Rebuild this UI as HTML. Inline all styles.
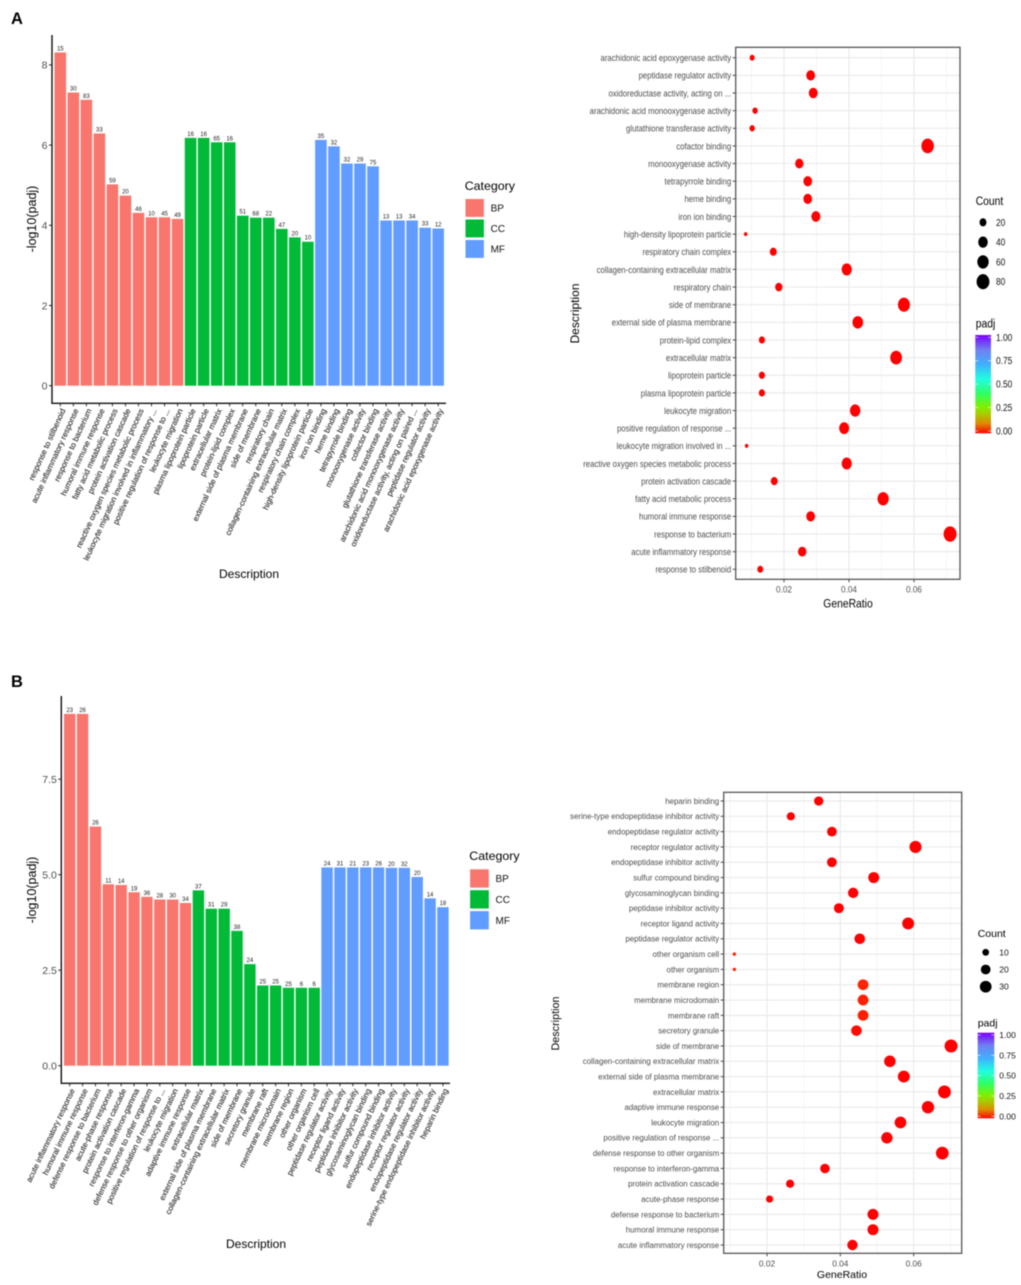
<!DOCTYPE html>
<html lang="en">
<head>
<meta charset="utf-8">
<title>GO enrichment charts</title>
<style>
html,body{margin:0;padding:0;background:#fff;}
#figure{display:block;width:1021px;height:1285px;filter:blur(0.5px);font-family:"Liberation Sans",sans-serif;}
</style>
</head>
<body>
<svg id="figure" xmlns="http://www.w3.org/2000/svg" width="1021" height="1285" viewBox="0 0 1021 1285">
  <defs>
    <linearGradient id="padjGradient" x1="0" y1="1" x2="0" y2="0">
      <stop offset="0" stop-color="#ff0000"/>
      <stop offset="0.1" stop-color="#de8a00"/>
      <stop offset="0.2" stop-color="#a8cc00"/>
      <stop offset="0.27" stop-color="#80f000"/>
      <stop offset="0.4" stop-color="#30ff60"/>
      <stop offset="0.55" stop-color="#20ffe0"/>
      <stop offset="0.7" stop-color="#40b0ff"/>
      <stop offset="0.85" stop-color="#7080f0"/>
      <stop offset="1" stop-color="#7a00ff"/>
    </linearGradient>
  </defs>
  <rect x="0" y="0" width="1021" height="1285" fill="#ffffff"/>
  <text x="11" y="24" font-size="16.5" font-weight="bold" fill="#000">A</text>
  <text x="11" y="687" font-size="16.5" font-weight="bold" fill="#000">B</text>
</svg>
<script>
// ---------- Panel A data ----------
const aBarCategories = ["response to stilbenoid","acute inflammatory response","response to bacterium","humoral immune response","fatty acid metabolic process","protein activation cascade","reactive oxygen species metabolic process","leukocyte migration involved in inflammatory ...","positive regulation of response to ...","leukocyte migration","plasma lipoprotein particle","lipoprotein particle","extracellular matrix","protein-lipid complex","external side of plasma membrane","side of membrane","respiratory chain","collagen-containing extracellular matrix","respiratory chain complex","high-density lipoprotein particle","iron ion binding","heme binding","tetrapyrrole binding","monooxygenase activity","cofactor binding","glutathione transferase activity","arachidonic acid monooxygenase activity","oxidoreductase activity, acting on paired ...","peptidase regulator activity","arachidonic acid epoxygenase activity"];
const aDotCategories = ["response to stilbenoid","acute inflammatory response","response to bacterium","humoral immune response","fatty acid metabolic process","protein activation cascade","reactive oxygen species metabolic process","leukocyte migration involved in ...","positive regulation of response ...","leukocyte migration","plasma lipoprotein particle","lipoprotein particle","extracellular matrix","protein-lipid complex","external side of plasma membrane","side of membrane","respiratory chain","collagen-containing extracellular matrix","respiratory chain complex","high-density lipoprotein particle","iron ion binding","heme binding","tetrapyrrole binding","monooxygenase activity","cofactor binding","glutathione transferase activity","arachidonic acid monooxygenase activity","oxidoreductase activity, acting on ...","peptidase regulator activity","arachidonic acid epoxygenase activity"];
const aGroups = ["BP","BP","BP","BP","BP","BP","BP","BP","BP","BP","CC","CC","CC","CC","CC","CC","CC","CC","CC","CC","MF","MF","MF","MF","MF","MF","MF","MF","MF","MF"];
const aLogPadj = [8.31,7.31,7.13,6.29,5.02,4.74,4.31,4.20,4.20,4.16,6.18,6.18,6.07,6.07,4.24,4.19,4.19,3.91,3.70,3.59,6.13,5.97,5.54,5.54,5.47,4.12,4.12,4.12,3.94,3.92];
const aCounts = [15,30,83,33,59,20,46,10,45,49,16,16,65,16,51,68,22,47,20,10,35,32,32,29,75,13,13,34,33,12];
const aGeneRatios = [0.0127,0.0256,0.0711,0.0282,0.0505,0.0170,0.0393,0.0085,0.0385,0.0419,0.0132,0.0132,0.0545,0.0132,0.0427,0.0569,0.0184,0.0393,0.0167,0.0082,0.0298,0.0273,0.0273,0.0247,0.0642,0.0102,0.0111,0.0290,0.0282,0.0102];
const aYTicks = [0,2,4,6,8];
const aYTickLabels = ["0","2","4","6","8"];
const aCountBreaks = [20,40,60,80];

// ---------- Panel B data ----------
const bBarCategories = ["acute inflammatory response","humoral immune response","defense response to bacterium","acute-phase response","protein activation cascade","response to interferon-gamma","defense response to other organism","positive regulation of response to ...","leukocyte migration","adaptive immune response","extracellular matrix","external side of plasma membrane","collagen-containing extracellular matrix","side of membrane","secretory granule","membrane raft","membrane microdomain","membrane region","other organism","other organism cell","peptidase regulator activity","receptor ligand activity","peptidase inhibitor activity","glycosaminoglycan binding","sulfur compound binding","endopeptidase inhibitor activity","receptor regulator activity","endopeptidase regulator activity","serine-type endopeptidase inhibitor activity","heparin binding"];
const bDotCategories = ["acute inflammatory response","humoral immune response","defense response to bacterium","acute-phase response","protein activation cascade","response to interferon-gamma","defense response to other organism","positive regulation of response ...","leukocyte migration","adaptive immune response","extracellular matrix","external side of plasma membrane","collagen-containing extracellular matrix","side of membrane","secretory granule","membrane raft","membrane microdomain","membrane region","other organism","other organism cell","peptidase regulator activity","receptor ligand activity","peptidase inhibitor activity","glycosaminoglycan binding","sulfur compound binding","endopeptidase inhibitor activity","receptor regulator activity","endopeptidase regulator activity","serine-type endopeptidase inhibitor activity","heparin binding"];
const bGroups = ["BP","BP","BP","BP","BP","BP","BP","BP","BP","BP","CC","CC","CC","CC","CC","CC","CC","CC","CC","CC","MF","MF","MF","MF","MF","MF","MF","MF","MF","MF"];
const bLogPadj = [9.21,9.21,6.26,4.75,4.73,4.54,4.42,4.35,4.35,4.26,4.59,4.11,4.11,3.53,2.66,2.10,2.10,2.04,2.04,2.04,5.19,5.19,5.19,5.19,5.19,5.18,5.18,4.94,4.38,4.15];
const bCounts = [23,26,26,11,14,19,36,28,30,34,37,31,29,38,24,25,25,25,6,6,24,31,21,23,26,20,32,20,14,18];
const bGeneRatios = [0.0433,0.0489,0.0489,0.0207,0.0263,0.0358,0.0678,0.0527,0.0564,0.0639,0.0684,0.0573,0.0535,0.0702,0.0444,0.0462,0.0462,0.0462,0.0111,0.0111,0.0453,0.0585,0.0396,0.0435,0.0491,0.0377,0.0605,0.0377,0.0265,0.0341];
const bYTicks = [0,2.5,5,7.5];
const bYTickLabels = ["0.0","2.5","5.0","7.5"];
const bCountBreaks = [10,20,30];

// ---------- Shared scale labels ----------
const legendGroups = ["BP","CC","MF"];
const ratioTicks = [0.02,0.04,0.06];
const ratioMinorTicks = [0.01,0.03,0.05,0.07];
const padjBreaks = [0,0.25,0.5,0.75,1];

const groupColors = {BP:"#F8766D",CC:"#00BA38",MF:"#619CFF"};
const svg = document.getElementById("figure");

function mk(tag, attrs, parent) {
  const node = document.createElementNS("http://www.w3.org/2000/svg", tag);
  for (const k in attrs) node.setAttribute(k, attrs[k]);
  parent.appendChild(node);
  return node;
}
function padjColor(p) {
  const hue = p < 0.01 ? p * 950 : 9.5 + (p - 0.01) * 265;
  return "hsl(" + hue.toFixed(1) + ",100%,50%)";
}
function radiusScale(counts, rMin, rMax) {
  const lo = Math.min.apply(null, counts), hi = Math.max.apply(null, counts);
  return function (c) { return rMin + (rMax - rMin) * Math.sqrt((c - lo) / (hi - lo)); };
}

function drawBarPanel(id, cfg, categories, groups, values, counts, yTicks, yTickLabels) {
  const yScale = function (v) { return cfg.y0 - v * cfg.yUnit; };
  const xScale = function (i) { return cfg.x0 + i * cfg.xStep; };
  const g = mk("g", {}, svg);
  
  

  values.forEach(function (v, i) {
    const bar = mk("rect", {x: xScale(i) - cfg.barW / 2, y: yScale(v), width: cfg.barW, height: cfg.y0 - yScale(v), fill: groupColors[groups[i]]}, g);
    
    
    const lab = mk("text", {x: xScale(i), y: yScale(v) - 2, "text-anchor": "middle", "font-size": 6, fill: "#222"}, g);
    lab.textContent = counts[i];
    
    
    const tick = mk("line", {x1: xScale(i), x2: xScale(i), y1: cfg.axisY, y2: cfg.axisY + 3, stroke: "#333", "stroke-width": 1}, g);
    
    
    const ax = xScale(i) + 3.5, ay = cfg.axisY + 6;
    const cat = mk("text", {x: ax, y: ay, "text-anchor": "end", "font-size": cfg.catFont, fill: "#333", stroke: "#333", "stroke-width": 0.15, "dominant-baseline": "middle", transform: "rotate(" + cfg.angle + " " + ax + " " + ay + ")"}, g);
    cat.textContent = categories[i];
    
    
  });

  const yAxis = mk("line", {x1: cfg.axisX, x2: cfg.axisX, y1: cfg.axisTop, y2: cfg.axisY + 0.7, stroke: "#111", "stroke-width": 1.4}, g);
  
  
  const xAxis = mk("line", {x1: cfg.axisX, x2: cfg.axisEnd, y1: cfg.axisY, y2: cfg.axisY, stroke: "#111", "stroke-width": 1.4}, g);
  
  

  yTicks.forEach(function (v, i) {
    const t = mk("line", {x1: cfg.axisX - 3, x2: cfg.axisX, y1: yScale(v), y2: yScale(v), stroke: "#222", "stroke-width": 1}, g);
    
    
    const l = mk("text", {x: cfg.axisX - 4.5, y: yScale(v) + 3.8, "text-anchor": "end", "font-size": 10.5, fill: "#4d4d4d"}, g);
    l.textContent = yTickLabels[i];
    
    
  });

  const yTitle = mk("text", {x: cfg.yTitleX, y: cfg.yTitleY, "text-anchor": "middle", "font-size": 12.5, fill: "#000", transform: "rotate(-90 " + cfg.yTitleX + " " + cfg.yTitleY + ")"}, g);
  yTitle.textContent = "-log10(padj)";
  
  
  const xTitle = mk("text", {x: cfg.xTitleX, y: cfg.xTitleY, "text-anchor": "middle", "font-size": 12, fill: "#000"}, g);
  xTitle.textContent = "Description";
  
  

  const leg = mk("g", {}, g);
  
  
  const legTitle = mk("text", {x: cfg.legX, y: cfg.legTitleY, "font-size": 12.4, fill: "#000"}, leg);
  legTitle.textContent = "Category";
  
  
  legendGroups.forEach(function (name, i) {
    const top = cfg.legTop + i * cfg.legStep;
    const sw = mk("rect", {x: cfg.legX + 0.8, y: top, width: cfg.legW, height: cfg.legStep - 2.6, fill: groupColors[name]}, leg);
    
    
    const tx = mk("text", {x: cfg.legX + cfg.legW + 7.5, y: top + cfg.legStep / 2 + 2.3, "font-size": 10, fill: "#111"}, leg);
    tx.textContent = name;
    
    
  });
}

function drawDotPanel(id, cfg, categories, ratios, counts, logPadj, countBreaks) {
  const xScale = function (v) { return cfg.x02 + (v - 0.02) * cfg.xUnit; };
  const yScale = function (i) { return cfg.rowBottom - i * cfg.rowStep; };
  const rScale = radiusScale(counts, cfg.rMin, cfg.rMax);
  // squeezed text: fk enlarges the font, sx narrows it horizontally
  const squeeze = function (x, y) { return "translate(" + x + " " + y + ") scale(" + cfg.sx + " 1)"; };
  const g = mk("g", {}, svg);
  
  

  const panelBg = mk("rect", {x: cfg.left, y: cfg.top, width: cfg.right - cfg.left, height: cfg.bottom - cfg.top, fill: "#fff"}, g);
  
  

  ratioMinorTicks.forEach(function (v) {
    if (xScale(v) < cfg.left || xScale(v) > cfg.right) return;
    const m = mk("line", {x1: xScale(v), x2: xScale(v), y1: cfg.top, y2: cfg.bottom, stroke: "#f1f1f1", "stroke-width": 0.7}, g);
    
    
  });
  ratioTicks.forEach(function (v) {
    const m = mk("line", {x1: xScale(v), x2: xScale(v), y1: cfg.top, y2: cfg.bottom, stroke: "#ebebeb", "stroke-width": 1.2}, g);
    
    
    const t = mk("line", {x1: xScale(v), x2: xScale(v), y1: cfg.bottom, y2: cfg.bottom + 3, stroke: "#444", "stroke-width": 1}, g);
    
    
    const l = mk("text", {"text-anchor": "middle", "font-size": 8.3 * cfg.fk, fill: "#4d4d4d", transform: squeeze(xScale(v), cfg.bottom + 13)}, g);
    l.textContent = v.toFixed(2);
    
    
  });

  categories.forEach(function (name, i) {
    const y = yScale(i);
    const h = mk("line", {x1: cfg.left, x2: cfg.right, y1: y, y2: y, stroke: "#ebebeb", "stroke-width": 1.2}, g);
    
    
    const t = mk("line", {x1: cfg.left - 3, x2: cfg.left, y1: y, y2: y, stroke: "#444", "stroke-width": 1}, g);
    
    
    const l = mk("text", {"text-anchor": "end", "font-size": cfg.catFont * cfg.fk, fill: "#4d4d4d", transform: squeeze(cfg.left - 4.5, y + 2.9 * cfg.fk)}, g);
    l.textContent = name;
    
    
  });

  ratios.forEach(function (v, i) {
    const r = rScale(counts[i]);
    const c = mk("ellipse", {cx: xScale(v), cy: yScale(i), rx: r, ry: r * cfg.dotAspect, fill: padjColor(Math.pow(10, -logPadj[i]))}, g);
    
    
  });

  const border = mk("rect", {x: cfg.left, y: cfg.top, width: cfg.right - cfg.left, height: cfg.bottom - cfg.top, fill: "none", stroke: "#555", "stroke-width": 1.3}, g);
  
  

  const yTitle = mk("text", {x: cfg.yTitleX, y: cfg.yTitleY, "text-anchor": "middle", "font-size": cfg.yTitleFont, fill: "#000", transform: "rotate(-90 " + cfg.yTitleX + " " + cfg.yTitleY + ")"}, g);
  yTitle.textContent = "Description";
  
  
  const xTitle = mk("text", {"text-anchor": "middle", "font-size": 10.5 * cfg.fk, fill: "#000", transform: squeeze(cfg.xTitleX, cfg.xTitleY)}, g);
  xTitle.textContent = "GeneRatio";
  
  

  const sizeLeg = mk("g", {}, g);
  
  
  const st = mk("text", {"font-size": 10.5 * cfg.fk, fill: "#000", transform: squeeze(cfg.legX, cfg.countTitleY)}, sizeLeg);
  st.textContent = "Count";
  
  
  countBreaks.forEach(function (b, i) {
    const y = cfg.countTop + i * cfg.countStep;
    const r = rScale(b);
    const d = mk("ellipse", {cx: cfg.countDotX, cy: y, rx: r, ry: r * cfg.dotAspect, fill: "#000"}, sizeLeg);
    
    
    const l = mk("text", {"font-size": 8.5 * cfg.fk, fill: "#111", transform: squeeze(cfg.legLabelX, y + 3 * cfg.fk)}, sizeLeg);
    l.textContent = b;
    
    
  });

  const colorLeg = mk("g", {}, g);
  
  
  const ct = mk("text", {"font-size": 10.5 * cfg.fk, fill: "#000", transform: squeeze(cfg.legX, cfg.padjTitleY)}, colorLeg);
  ct.textContent = "padj";
  
  
  const bar = mk("rect", {x: cfg.barX, y: cfg.barTop, width: cfg.barW, height: cfg.barBottom - cfg.barTop, fill: "url(#padjGradient)"}, colorLeg);
  
  
  padjBreaks.forEach(function (p) {
    const y = cfg.barY0 + (cfg.barY1 - cfg.barY0) * p;
    const t1 = mk("line", {x1: cfg.barX, x2: cfg.barX + 3, y1: y, y2: y, stroke: "#fff", "stroke-width": 0.6}, colorLeg);
    
    
    const t2 = mk("line", {x1: cfg.barX + cfg.barW - 3, x2: cfg.barX + cfg.barW, y1: y, y2: y, stroke: "#fff", "stroke-width": 0.6}, colorLeg);
    
    
    const l = mk("text", {"font-size": 8.5 * cfg.fk, fill: "#111", transform: squeeze(cfg.legLabelX, y + 3 * cfg.fk)}, colorLeg);
    l.textContent = p.toFixed(2);
    
    
  });
}

drawBarPanel("a", {x0:60.3, xStep:13.03, barW:11.6, y0:385.7, yUnit:40.1, axisX:52, axisEnd:446, axisTop:35, axisY:403.3, catFont:8, angle:-65.5, yTitleX:36, yTitleY:219, xTitleX:249, xTitleY:578, legX:464.7, legTitleY:190, legTop:199, legStep:20.5, legW:18.4}, aBarCategories, aGroups, aLogPadj, aCounts, aYTicks, aYTickLabels);
drawDotPanel("a", {left:735.7, right:960, top:47.3, bottom:579.3, x02:784, xUnit:3250, rowBottom:569.3, rowStep:17.64, rMin:1.7, rMax:6.5, dotAspect:1.18, fk:1.16, sx:0.85, catFont:7.9, yTitleFont:12, yTitleX:579, yTitleY:313.5, xTitleX:848, xTitleY:607.5, legX:975.7, legLabelX:996, countDotX:983, countTitleY:205, countTop:222.3, countStep:19.8, padjTitleY:327.5, barX:975.3, barW:15.7, barTop:335, barBottom:433.3, barY0:431, barY1:337.3}, aDotCategories, aGeneRatios, aCounts, aLogPadj, aCountBreaks);
drawBarPanel("b", {x0:69.7, xStep:12.87, barW:11.4, y0:1065.7, yUnit:38.2, axisX:61.3, axisEnd:450, axisTop:696, axisY:1083.3, catFont:8, angle:-64.5, yTitleX:36, yTitleY:890, xTitleX:256, xTitleY:1248, legX:469.3, legTitleY:860, legTop:869.3, legStep:20.9, legW:18.7}, bBarCategories, bGroups, bLogPadj, bCounts, bYTicks, bYTickLabels);
drawDotPanel("b", {left:723.7, right:961.7, top:792.3, bottom:1253.3, x02:767, xUnit:3667, rowBottom:1245, rowStep:15.31, rMin:1.7, rMax:6.5, dotAspect:1, fk:1, sx:1, catFont:7.9, yTitleFont:10.8, yTitleX:559, yTitleY:1023.5, xTitleX:842, xTitleY:1278, legX:977.7, legLabelX:999.3, countDotX:985.7, countTitleY:937, countTop:952.3, countStep:17.2, padjTitleY:1026.5, barX:977.7, barW:16.6, barTop:1032.7, barBottom:1118.3, barY0:1116.3, barY1:1035}, bDotCategories, bGeneRatios, bCounts, bLogPadj, bCountBreaks);
</script>
</body>
</html>
